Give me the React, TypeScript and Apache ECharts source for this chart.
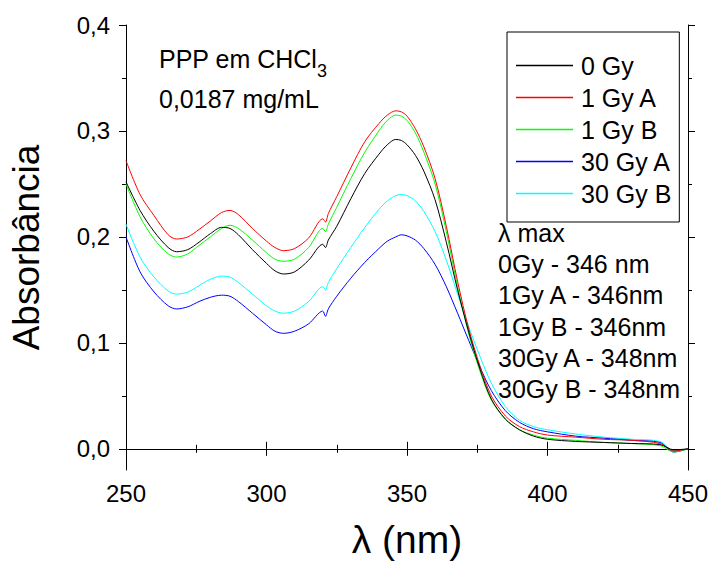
import React, { useEffect, useRef } from "react";
import * as echarts from "echarts";

const FONT = "'Liberation Sans', Arial, sans-serif";

const wavelengths = [250, 255, 260, 265, 268, 272, 276, 280, 284, 287, 290, 295, 300, 303, 306, 310, 315, 320, 321, 322, 325, 330, 335, 340, 343, 346, 348, 350, 353, 356, 360, 364, 368, 372, 376, 380, 385, 390, 395, 400, 410, 420, 430, 440, 445, 450];

const gy0 = [0.252, 0.225, 0.205, 0.19, 0.186, 0.188, 0.195, 0.203, 0.209, 0.208, 0.202, 0.188, 0.175, 0.168, 0.165, 0.167, 0.178, 0.193, 0.19, 0.197, 0.21, 0.236, 0.26, 0.278, 0.287, 0.292, 0.291, 0.287, 0.277, 0.262, 0.235, 0.195, 0.15, 0.11, 0.075, 0.047, 0.028, 0.018, 0.012, 0.009, 0.007, 0.006, 0.005, 0.004, -0.001, 0.0];
const gy1A = [0.272, 0.24, 0.22, 0.202, 0.198, 0.2, 0.207, 0.215, 0.223, 0.225, 0.221, 0.208, 0.196, 0.19, 0.187, 0.189, 0.199, 0.217, 0.214, 0.222, 0.238, 0.265, 0.29, 0.307, 0.315, 0.319, 0.318, 0.314, 0.302, 0.285, 0.255, 0.21, 0.158, 0.113, 0.078, 0.05, 0.031, 0.021, 0.016, 0.013, 0.011, 0.009, 0.008, 0.005, -0.002, 0.0];
const gy1B = [0.25, 0.219, 0.198, 0.184, 0.181, 0.184, 0.192, 0.2, 0.208, 0.211, 0.208, 0.197, 0.185, 0.179, 0.177, 0.179, 0.19, 0.208, 0.205, 0.212, 0.228, 0.255, 0.28, 0.3, 0.31, 0.315, 0.314, 0.31, 0.298, 0.28, 0.25, 0.205, 0.153, 0.108, 0.073, 0.046, 0.028, 0.018, 0.013, 0.01, 0.008, 0.006, 0.005, 0.003, -0.003, 0.0];
const gy30A = [0.2, 0.167, 0.148, 0.135, 0.132, 0.134, 0.139, 0.143, 0.145, 0.144, 0.139, 0.128, 0.117, 0.111, 0.109, 0.111, 0.118, 0.13, 0.125, 0.132, 0.144, 0.161, 0.176, 0.189, 0.196, 0.2, 0.202, 0.201, 0.197, 0.189, 0.174, 0.153, 0.128, 0.102, 0.077, 0.055, 0.036, 0.025, 0.019, 0.016, 0.012, 0.01, 0.008, 0.006, -0.003, 0.0];
const gy30B = [0.212, 0.181, 0.162, 0.149, 0.146, 0.148, 0.154, 0.16, 0.163, 0.162, 0.157, 0.146, 0.135, 0.13, 0.128, 0.13, 0.139, 0.153, 0.15, 0.157, 0.17, 0.19, 0.209, 0.226, 0.234, 0.239, 0.24, 0.239, 0.234, 0.224, 0.205, 0.178, 0.146, 0.115, 0.087, 0.062, 0.04, 0.027, 0.021, 0.018, 0.014, 0.011, 0.009, 0.007, -0.002, 0.0];

const seriesNames = ["0 Gy", "1 Gy A", "1 Gy B", "30 Gy A", "30 Gy B"];
const seriesColors = ["#000000", "#ff0000", "#00ff00", "#0000ff", "#00ffff"];
const seriesValues = [gy0, gy1A, gy1B, gy30A, gy30B];

const yMajorTicks = [0, 0.1, 0.2, 0.3, 0.4];
const yMinorTicks = [0.05, 0.15, 0.25, 0.35];

const sampleLines = ["PPP em CHCl", "3", "0,0187 mg/mL"];
const lambdaMaxLines = ["λ max", "0Gy - 346 nm", "1Gy A - 346nm", "1Gy B - 346nm", "30Gy A - 348nm", "30Gy B - 348nm"];

export default function App() {
  const ref = useRef<HTMLDivElement>(null);
  useEffect(() => {
    if (!ref.current) return;
    const chart = echarts.init(ref.current, null, { renderer: "svg" });
    const axisLine = { show: true, lineStyle: { color: "#000", width: 1 } };
    const fmt = (v: number) => v.toFixed(1).replace(".", ",");
    const yBase = { type: "value", min: -0.02, max: 0.4, splitNumber: 4, splitLine: { show: false } };
    const option: any = {
      animation: false,
      backgroundColor: "#fff",
      grid: { left: 126, right: 24, top: 25, bottom: 88, containLabel: false },
      legend: {
        orient: "vertical",
        left: 507,
        top: 32,
        padding: [21, 8, 16, 9],
        itemGap: 7,
        itemWidth: 57,
        itemHeight: 1.5,
        icon: "rect",
        borderColor: "#000",
        borderWidth: 1,
        data: seriesNames,
        textStyle: { fontSize: 25, lineHeight: 24, color: "#000", fontFamily: FONT, padding: [0, 0, 0, 3] },
      },
      xAxis: [
        {
          type: "value", min: 250, max: 450, interval: 50, position: "bottom",
          axisLine, splitLine: { show: false },
          axisTick: { show: true, inside: false, length: 7, lineStyle: { color: "#000" } },
          minorTick: { show: true, splitNumber: 2, length: 4, lineStyle: { color: "#000" } },
          axisLabel: { fontSize: 24, color: "#000", fontFamily: FONT, margin: 11 },
          name: "λ (nm)", nameLocation: "middle", nameGap: 50,
          nameTextStyle: { fontSize: 39, color: "#000", fontFamily: FONT },
        },
        {
          type: "value", min: 250, max: 450, interval: 50, position: "top",
          axisLine, splitLine: { show: false },
          axisTick: { show: true, inside: false, length: 7, lineStyle: { color: "#000" } },
          minorTick: { show: true, splitNumber: 2, length: 4, lineStyle: { color: "#000" } },
          axisLabel: { show: false },
        },
      ],
      yAxis: [
        {
          ...yBase, position: "left", axisLine,
          axisTick: { show: true, inside: false, length: 7, customValues: yMajorTicks, lineStyle: { color: "#000" } },
          axisLabel: { customValues: yMajorTicks, formatter: fmt, fontSize: 24, color: "#000", fontFamily: FONT, margin: 16 },
          name: "Absorbância", nameLocation: "middle", nameRotate: 90, nameGap: 81,
          nameTextStyle: { fontSize: 37, color: "#000", fontFamily: FONT },
        },
        {
          ...yBase, position: "left", axisLine: { show: false },
          axisTick: { show: true, inside: false, length: 4, customValues: yMinorTicks, lineStyle: { color: "#000" } },
          axisLabel: { show: false },
        },
        {
          ...yBase, position: "right", axisLine,
          axisTick: { show: true, inside: false, length: 7, customValues: yMajorTicks, lineStyle: { color: "#000" } },
          axisLabel: { show: false },
        },
        {
          ...yBase, position: "right", axisLine: { show: false },
          axisTick: { show: true, inside: false, length: 4, customValues: yMinorTicks, lineStyle: { color: "#000" } },
          axisLabel: { show: false },
        },
      ],
      series: seriesNames.map((name, i) => ({
        name,
        type: "line",
        xAxisIndex: 0,
        yAxisIndex: 0,
        data: wavelengths.map((w, j) => [w, seriesValues[i][j]]),
        symbol: "none",
        showSymbol: false,
        smooth: 0.3,
        color: seriesColors[i],
        lineStyle: { color: seriesColors[i], width: 1 },
        z: 2 + (4 - i),
      })),
      graphic: [
        { type: "text", x: 159, y: 59, style: { text: sampleLines[0], font: `25px ${FONT}`, fill: "#000", textVerticalAlign: "middle" } },
        { type: "text", x: 317, y: 71, style: { text: sampleLines[1], font: `18px ${FONT}`, fill: "#000", textVerticalAlign: "middle" } },
        { type: "text", x: 159, y: 99, style: { text: sampleLines[2], font: `25px ${FONT}`, fill: "#000", textVerticalAlign: "middle" } },
        ...lambdaMaxLines.map((t, i) => ({
          type: "text", x: 498, y: 233 + i * 31.2,
          style: { text: t, font: `25px ${FONT}`, fill: "#000", textVerticalAlign: "middle" },
        })),
      ],
    };
    chart.setOption(option);
    return () => chart.dispose();
  }, []);
  return <div ref={ref} style={{ position: "fixed", left: 0, top: 0, width: 712, height: 564, background: "#fff" }} />;
}
